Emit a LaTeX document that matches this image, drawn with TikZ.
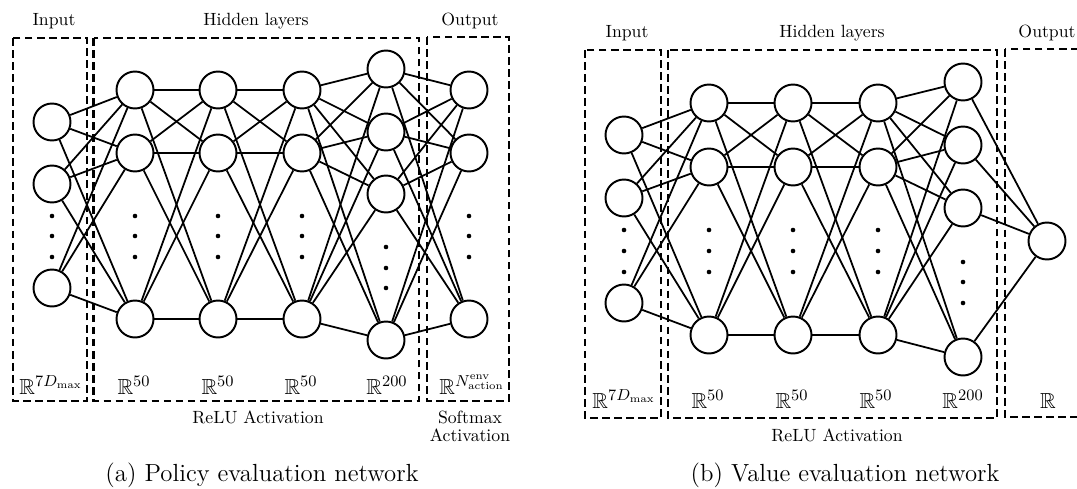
\documentclass[tikz,border=0pt]{standalone}
\usepackage{amssymb}
\begin{document}
\begin{tikzpicture}[x=0.565pt,y=-0.565pt,
  neuron/.style={circle,draw,line width=1.1pt,minimum size=20.9pt,inner sep=0pt},
  dotn/.style={circle,fill,inner sep=0pt,minimum size=2.6pt},
  conn/.style={line width=1pt},
  box/.style={draw,line width=1.5pt,dash pattern=on 4.3pt off 2.5pt},
  lbl/.style={anchor=base,inner sep=0pt,font=\fontsize{10}{12}\selectfont},
  mlbl/.style={anchor=base,inner sep=0pt,font=\fontsize{12.3}{14}\selectfont},
  captxt/.style={anchor=base,inner sep=0pt,font=\fontsize{14}{16}\selectfont}]
\useasboundingbox (0,0) rectangle (1077,488);

% ---------------- Panel (a) ----------------
\draw[box] (13,38) rectangle (87,401);
\draw[box] (93.5,38) rectangle (419,401);
\draw[box] (427,37) rectangle (509,401);

\foreach \n/\y in {1/122,2/184,3/288} \node[neuron] (ai\n) at (52,\y) {};
\foreach \c/\x in {1/135,2/218,3/302}
  \foreach \n/\y in {1/90,2/153,3/319} \node[neuron] (ah\c\n) at (\x,\y) {};
\foreach \n/\y in {1/69,2/132,3/194,4/340} \node[neuron] (ah4\n) at (386,\y) {};
\foreach \n/\y in {1/90,2/153,3/319} \node[neuron] (ao\n) at (469,\y) {};

\foreach \x in {52,135,218,302,469}
  \foreach \y in {216,236,257} \node[dotn] (ad-\x-\y) at (\x,\y) {};
\foreach \y in {247,268,288} \node[dotn] (ad-386-\y) at (386,\y) {};

\foreach \i in {1,2,3} \foreach \j in {1,2,3} \draw[conn] (ai\i) -- (ah1\j);
\foreach \i in {1,2,3} \foreach \j in {1,2,3} {\draw[conn] (ah1\i) -- (ah2\j); \draw[conn] (ah2\i) -- (ah3\j);}
\foreach \i in {1,2,3} \foreach \j in {1,...,4} \draw[conn] (ah3\i) -- (ah4\j);
\foreach \i in {1,...,4} \foreach \j in {1,2,3} \draw[conn] (ah4\i) -- (ao\j);

\node[lbl] (atin) at (54,26) {Input};
\node[lbl] (athid) at (256,26) {Hidden layers};
\node[lbl] (atout) at (470,26) {Output};
\node[mlbl] (abin) at (51,394) {$\mathbb{R}^{7D_{\max}}$};
\node[mlbl] (ab1) at (134,394) {$\mathbb{R}^{50}$};
\node[mlbl] (ab2) at (218,394) {$\mathbb{R}^{50}$};
\node[mlbl] (ab3) at (301,394) {$\mathbb{R}^{50}$};
\node[mlbl] (ab4) at (387,394) {$\mathbb{R}^{200}$};
\node[mlbl] (about) at (472,394) {$\mathbb{R}^{N^{\mathrm{env}}_{\mathrm{action}}}$};
\node[lbl] (arelu) at (258,423) {ReLU Activation};
\node[lbl] (asoft1) at (470,423) {Softmax};
\node[lbl] (asoft2) at (470,441) {Activation};
\node[captxt] (acap) at (262,481) {(a) Policy evaluation network};

% ---------------- Panel (b) ----------------
\draw[box] (585,50) rectangle (661,418);
\draw[box] (668,50) rectangle (997,418);
\draw[box] (1005,49) rectangle (1095,417);

\foreach \n/\y in {1/135,2/198,3/303} \node[neuron] (bi\n) at (624,\y) {};
\foreach \c/\x in {1/709,2/793,3/878}
  \foreach \n/\y in {1/103,2/167,3/335} \node[neuron] (bh\c\n) at (\x,\y) {};
\foreach \n/\y in {1/82,2/145,3/208,4/357} \node[neuron] (bh4\n) at (963,\y) {};
\node[neuron] (bo) at (1047,241) {};

\foreach \x in {624,709,793,878}
  \foreach \y in {230,251,272} \node[dotn] (bd-\x-\y) at (\x,\y) {};
\foreach \y in {262,282,303} \node[dotn] (bd-963-\y) at (963,\y) {};

\foreach \i in {1,2,3} \foreach \j in {1,2,3} \draw[conn] (bi\i) -- (bh1\j);
\foreach \i in {1,2,3} \foreach \j in {1,2,3} {\draw[conn] (bh1\i) -- (bh2\j); \draw[conn] (bh2\i) -- (bh3\j);}
\foreach \i in {1,2,3} \foreach \j in {1,...,4} \draw[conn] (bh3\i) -- (bh4\j);
\foreach \i in {1,...,4} \draw[conn] (bh4\i) -- (bo);

\node[lbl] (btin) at (627,38) {Input};
\node[lbl] (bthid) at (832,38) {Hidden layers};
\node[lbl] (btout) at (1047,38) {Output};
\node[mlbl] (bbin) at (624,408) {$\mathbb{R}^{7D_{\max}}$};
\node[mlbl] (bb1) at (708,408) {$\mathbb{R}^{50}$};
\node[mlbl] (bb2) at (792,408) {$\mathbb{R}^{50}$};
\node[mlbl] (bb3) at (876,408) {$\mathbb{R}^{50}$};
\node[mlbl] (bb4) at (963,408) {$\mathbb{R}^{200}$};
\node[mlbl] (bbout) at (1048,408) {$\mathbb{R}$};
\node[lbl] (brelu) at (837,441) {ReLU Activation};
\node[captxt] (bcap) at (845,481) {(b) Value evaluation network};
\end{tikzpicture}
\end{document}
